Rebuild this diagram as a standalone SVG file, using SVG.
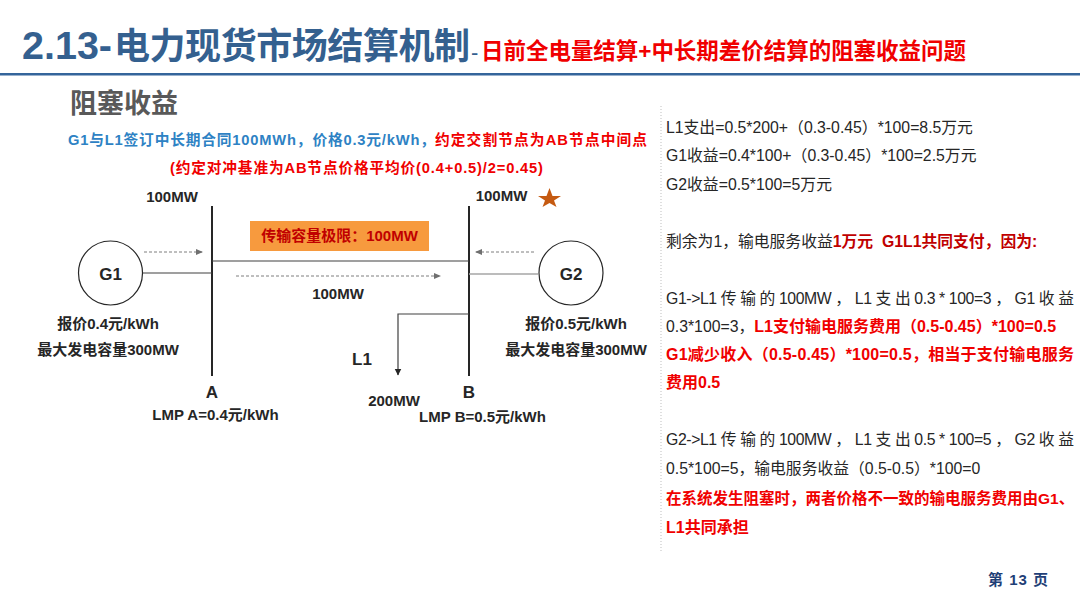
<svg xmlns="http://www.w3.org/2000/svg" width="1080" height="608" viewBox="0 0 1080 608">
<style>
text{font-family:"Liberation Sans","Noto Sans CJK SC",sans-serif;}
.b{font-weight:700;}
.lab{font-weight:700;font-size:15px;fill:#262626;}
.m{text-anchor:middle;}
.big{font-weight:700;font-size:17px;fill:#262626;text-anchor:middle;}
.body{font-size:15.800px;fill:#262626;}
.red{font-size:16px;font-weight:700;fill:#f00000;}
.dk{fill:#c00000;font-weight:700;}
.bus{stroke:#262626;stroke-width:2;fill:none;}
.wire{stroke:#404040;stroke-width:1.2;fill:none;}
.dash{stroke:#7f7f7f;stroke-width:1;stroke-dasharray:3 2;fill:none;marker-end:url(#ga);}
.gen{fill:#fff;stroke:#262626;stroke-width:1.2;}
</style>
<defs>
<marker id="ga" markerWidth="8" markerHeight="8" refX="6" refY="3" orient="auto" markerUnits="userSpaceOnUse"><path d="M0 0L7 3L0 6Z" fill="#6f6f6f"/></marker>
<marker id="ka" markerWidth="8" markerHeight="8" refX="6.500" refY="3.500" orient="auto" markerUnits="userSpaceOnUse"><path d="M0 0L7 3.500L0 7Z" fill="#262626"/></marker>
</defs>
<rect width="1080" height="608" fill="#fff"/>
<g id="header">
<text class="b" x="22" y="59" font-size="38" fill="#34608f" textLength="90" lengthAdjust="spacingAndGlyphs">2.13-</text>
<text class="b" x="114" y="59" font-size="36" fill="#34608f" textLength="356" lengthAdjust="spacing">电力现货市场结算机制</text>
<text x="471" y="60" font-size="22" fill="#34608f">-</text>
<text class="b" x="481" y="59" font-size="22.500" fill="#f00000" textLength="485" lengthAdjust="spacing">日前全电量结算+中长期差价结算的阻塞收益问题</text>
<rect x="0" y="73" width="1080" height="2.500" fill="#34659b"/>
</g>
<g id="intro">
<text class="b" x="70" y="113" font-size="27" fill="#595959">阻塞收益</text>
<text class="b" x="68" y="145" font-size="14.700" fill="#2e82c4" textLength="367" lengthAdjust="spacing">G1与L1签订中长期合同100MWh，价格0.3元/kWh，</text>
<text class="b" x="435" y="145" font-size="14.700" fill="#f00000" textLength="212" lengthAdjust="spacing">约定交割节点为AB节点中间点</text>
<text class="b" x="170" y="173" font-size="14.700" fill="#f00000" textLength="373" lengthAdjust="spacing">(约定对冲基准为AB节点价格平均价(0.4+0.5)/2=0.45)</text>
</g>
<g id="connectors">
<path class="bus" d="M212 206V376"/>
<path class="bus" d="M469 206V376"/>
<path class="wire" d="M212 261H469" stroke-width="1.5"/>
<path class="wire" d="M143 273H212"/>
<path d="M469 274H538" stroke="#a6a6a6" stroke-width="1.5" fill="none"/>
<path class="wire" d="M469 314H398V375" marker-end="url(#ka)"/>
<path class="dash" d="M144 252H202"/>
<path class="dash" d="M534 252H476"/>
<path class="dash" d="M236 276H440"/>
</g>
<g id="G1">
<circle class="gen" cx="110.500" cy="273" r="32"/>
<text class="big" x="110.500" y="280">G1</text>
<text class="lab m" x="108" y="329">报价0.4元/kWh</text>
<text class="lab m" x="108" y="355">最大发电容量300MW</text>
</g>
<g id="G2">
<circle class="gen" cx="571" cy="273" r="32"/>
<text class="big" x="571" y="280">G2</text>
<text class="lab m" x="576" y="329">报价0.5元/kWh</text>
<text class="lab m" x="576" y="355">最大发电容量300MW</text>
</g>
<g id="busA">
<text class="lab m" x="172" y="202">100MW</text>
<text class="big" x="212" y="398">A</text>
<text class="lab m" x="215.500" y="420">LMP A=0.4元/kWh</text>
</g>
<g id="busB">
<text class="lab m" x="501.500" y="201">100MW</text>
<path d="M549.500 188L552.500 196H561L554 200.500L556.500 207L549.500 203L542.500 207L545 200.500L538 196H546.500Z" fill="#c55a11"/>
<text class="big" x="469" y="398">B</text>
<text class="lab m" x="482.500" y="422">LMP B=0.5元/kWh</text>
</g>
<g id="L1">
<text class="big" x="362" y="365">L1</text>
<text class="lab m" x="394" y="406">200MW</text>
</g>
<g id="line-label">
<rect x="250" y="221" width="179" height="30" fill="#f79a3e"/>
<text class="m" x="339.500" y="241" font-size="15" font-weight="700" fill="#c00000">传输容量极限：100MW</text>
<text class="lab m" x="338" y="299">100MW</text>
</g>
<g id="notes">
<path d="M661 106V552" stroke="#bfbfbf" stroke-width="1" stroke-dasharray="1 2" fill="none"/>
<text class="body" x="666" y="133">L1支出=0.5*200+（0.3-0.45）*100=8.5万元</text>
<text class="body" x="666" y="161">G1收益=0.4*100+（0.3-0.45）*100=2.5万元</text>
<text class="body" x="666" y="190">G2收益=0.5*100=5万元</text>
<text class="body" x="666" y="247">剩余为1，输电服务收益<tspan class="dk">1万元&#160;&#160;G1L1共同支付，因为:</tspan></text>
<text class="body" x="666" y="304" textLength="408" lengthAdjust="spacing">G1-&gt;L1 传 输 的 100MW ， L1 支 出 0.3 * 100=3 ， G1 收 益</text>
<text class="body" x="666" y="332">0.3*100=3，<tspan class="red">L1支付输电服务费用（0.5-0.45）*100=0.5</tspan></text>
<text class="red" x="666" y="360" textLength="408" lengthAdjust="spacing">G1减少收入（0.5-0.45）*100=0.5，相当于支付输电服务</text>
<text class="red" x="666" y="388">费用0.5</text>
<text class="body" x="666" y="445" textLength="408" lengthAdjust="spacing">G2-&gt;L1 传 输 的 100MW ， L1 支 出 0.5 * 100=5 ， G2 收 益</text>
<text class="body" x="666" y="474">0.5*100=5，输电服务收益（0.5-0.5）*100=0</text>
<text class="red" x="666" y="504" font-size="15.500" style="font-size:15.500px">在系统发生阻塞时，两者价格不一致的输电服务费用由G1、</text>
<text class="red" x="666" y="533">L1共同承担</text>
</g>
<g id="footer">
<text class="b" x="988" y="585" font-size="15" fill="#1f3f77" textLength="60" lengthAdjust="spacing">第 13 页</text>
</g>
</svg>
